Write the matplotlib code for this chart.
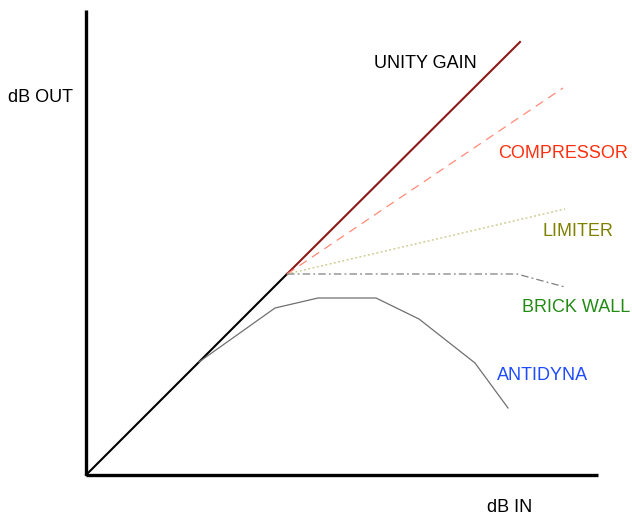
import matplotlib
matplotlib.use("Agg")
import matplotlib.pyplot as plt

# transfer curves, dB in vs dB out (arbitrary units, origin at the axes corner)
unity_in = [0, 201]
unity_out = [0, 201]
unity_hi_in = [201, 434]
unity_hi_out = [201, 433]
comp_in = [201, 477]
comp_out = [201, 387]
limiter_in = [201, 479]
limiter_out = [201, 266]
brick_in = [201, 431, 479]
brick_out = [201, 201, 188]
anti_in = [113, 189, 232, 290, 333, 389, 422]
anti_out = [113, 167, 177, 177, 156, 112, 67]

plt.rcParams["font.family"] = ["Liberation Sans", "DejaVu Sans"]

fig = plt.figure(figsize=(6.32, 5.19), dpi=100)
ax = fig.add_axes([0, 0, 1, 1])
ax.set_xlim(-86, 546)
ax.set_ylim(-44, 475)
ax.axis("off")

# axes
ax.plot([0, 0], [0, 465], color="black", lw=2.4, solid_capstyle="butt")
ax.plot([0, 512], [0, 0], color="black", lw=2.4, solid_capstyle="butt")

ax.plot(unity_in, unity_out, color="black", lw=1.5)
ax.plot(unity_hi_in, unity_hi_out, color="#8b1a1a", lw=1.5)
ax.plot(comp_in, comp_out, color="#ff8a78", lw=0.9, dashes=(7, 5))
ax.plot(limiter_in, limiter_out, color="#c2c27a", lw=0.9, dashes=(1.5, 2))
ax.plot(brick_in, brick_out, color="#808080", lw=0.9, dashes=(6, 2.5, 1.5, 2.5))
ax.plot(anti_in, anti_out, color="#707070", lw=0.9)

fs = 13
ax.text(-78, 378, "dB OUT", fontsize=fs, color="black", va="center", ha="left")
ax.text(401, -33, "dB IN", fontsize=fs, color="black", va="center", ha="left")
ax.text(288, 412, "UNITY GAIN", fontsize=fs, color="black", va="center", ha="left")
ax.text(412, 322, "COMPRESSOR", fontsize=fs, color="#ff3010", va="center", ha="left")
ax.text(457, 244, "LIMITER", fontsize=fs, color="#808000", va="center", ha="left")
ax.text(436, 167, "BRICK WALL", fontsize=fs, color="#228b14", va="center", ha="left")
ax.text(411, 100, "ANTIDYNA", fontsize=fs, color="#1f4bff", va="center", ha="left")

fig.savefig("out.png", dpi=100)
